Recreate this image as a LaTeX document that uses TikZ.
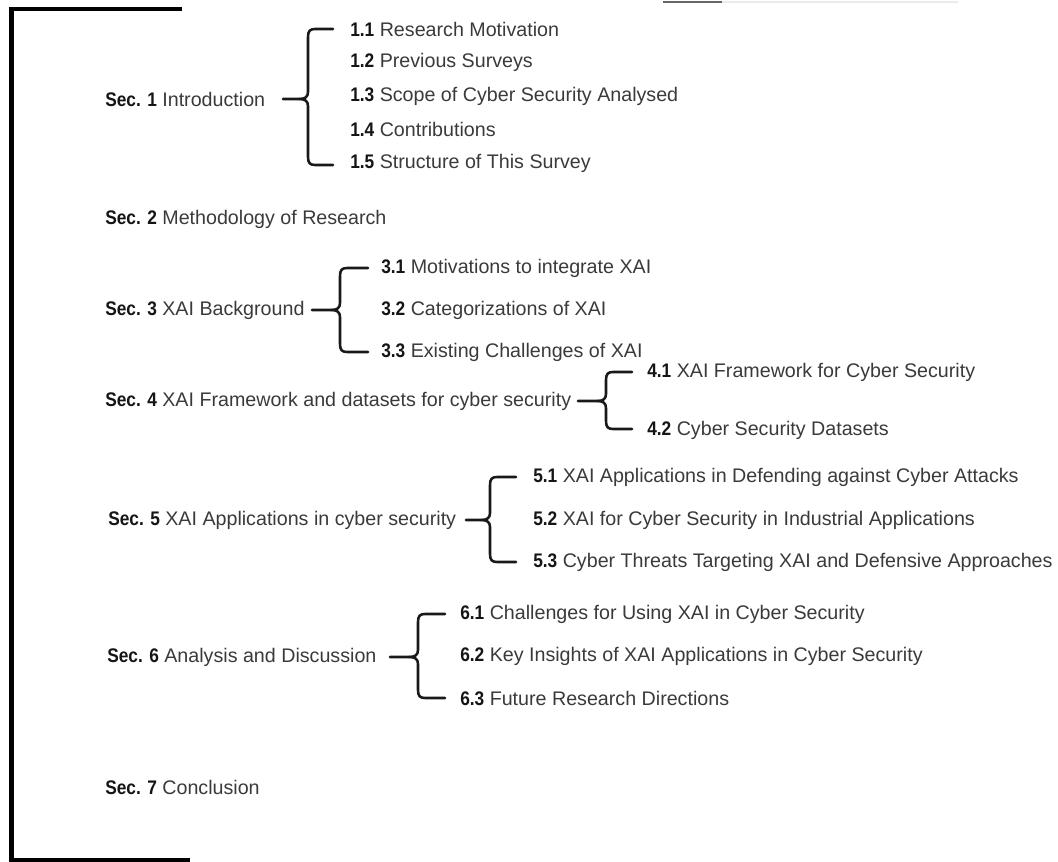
\documentclass[tikz,border=0pt]{standalone}
\usepackage{fontspec}
\setmainfont{Liberation Sans}[BoldFeatures={FakeStretch=0.88}]
\definecolor{txt}{HTML}{3A3A3A}
\definecolor{num}{HTML}{151515}
\begin{document}
\begin{tikzpicture}[x=0.75pt,y=-0.75pt,
  lbl/.style={anchor=west,inner sep=0pt,text=txt,font=\fontsize{14.75}{17}\selectfont},
  brc/.style={line width=1.9pt,line cap=round,line join=round,black!90},
  frame/.style={line width=3.4pt,black}]
\useasboundingbox (0,0) rectangle (1058,862);
\newcommand\secn[1]{\textbf{\color{num}Sec. #1}}
\newcommand\subn[1]{\textbf{\color{num}#1}}
% faint line at top
\draw[line width=1pt,black!8] (663,2) -- (958,2);
\draw[line width=1pt,black!60] (663,2) -- (722,2);
% frame
\draw[frame] (182,9) -- (11.5,9) -- (11.5,860) -- (190,860);
% sections
\node[lbl] (s1) at (105,99) {\secn{1} Introduction};
\node[lbl] (s2) at (105,219) {\secn{2} Methodology of Research};
\node[lbl] (s3) at (105,310) {\secn{3} XAI Background};
\node[lbl] (s4) at (105,401) {\secn{4} XAI Framework and datasets for cyber security};
\node[lbl] (s5) at (108,520) {\secn{5} XAI Applications in cyber security};
\node[lbl] (s6) at (107,657) {\secn{6} Analysis and Discussion};
\node[lbl] (s7) at (105,787) {\secn{7} Conclusion};
% subsections
\node[lbl] (t11) at (350,29) {\subn{1.1} Research Motivation};
\node[lbl] (t12) at (350,62) {\subn{1.2} Previous Surveys};
\node[lbl] (t13) at (350,96) {\subn{1.3} Scope of Cyber Security Analysed};
\node[lbl] (t14) at (350,129) {\subn{1.4} Contributions};
\node[lbl] (t15) at (350,163) {\subn{1.5} Structure of This Survey};
\node[lbl] (t31) at (381,268) {\subn{3.1} Motivations to integrate XAI};
\node[lbl] (t32) at (381,310) {\subn{3.2} Categorizations of XAI};
\node[lbl] (t33) at (381,352) {\subn{3.3} Existing Challenges of XAI};
\node[lbl] (t41) at (647,372) {\subn{4.1} XAI Framework for Cyber Security};
\node[lbl] (t42) at (647,430) {\subn{4.2} Cyber Security Datasets};
\node[lbl] (t51) at (533,477) {\subn{5.1} XAI Applications in Defending against Cyber Attacks};
\node[lbl] (t52) at (533,520) {\subn{5.2} XAI for Cyber Security in Industrial Applications};
\node[lbl] (t53) at (533,562) {\subn{5.3} Cyber Threats Targeting XAI and Defensive Approaches};
\node[lbl] (t61) at (460,614) {\subn{6.1} Challenges for Using XAI in Cyber Security};
\node[lbl] (t62) at (460,656) {\subn{6.2} Key Insights of XAI Applications in Cyber Security};
\node[lbl] (t63) at (460,698) {\subn{6.3} Future Research Directions};
% braces: stub start x, vertical x, arm end x, top y, mid y, bottom y
\newcommand\mybrace[6]{%
  \draw[brc] ({#3},{#4}) -- ({#2+7},{#4}) .. controls ({#2+2},{#4}) and ({#2},{#4+2}) .. ({#2},{#4+8})
    -- ({#2},{#5-7}) .. controls ({#2},{#5-2}) and ({#2-3},{#5}) .. ({#2-9},{#5}) -- ({#1},{#5});
  \draw[brc] ({#2-9},{#5}) .. controls ({#2-3},{#5}) and ({#2},{#5+2}) .. ({#2},{#5+7})
    -- ({#2},{#6-8}) .. controls ({#2},{#6-2}) and ({#2+2},{#6}) .. ({#2+7},{#6}) -- ({#3},{#6});}
\mybrace{283}{308}{333}{29}{99}{165}
\mybrace{312}{340}{368}{268}{310}{352}
\mybrace{578}{606}{632}{372}{401}{429}
\mybrace{466}{490}{516}{477}{520}{562}
\mybrace{390}{418}{445}{614}{657}{698}
\end{tikzpicture}
\end{document}
